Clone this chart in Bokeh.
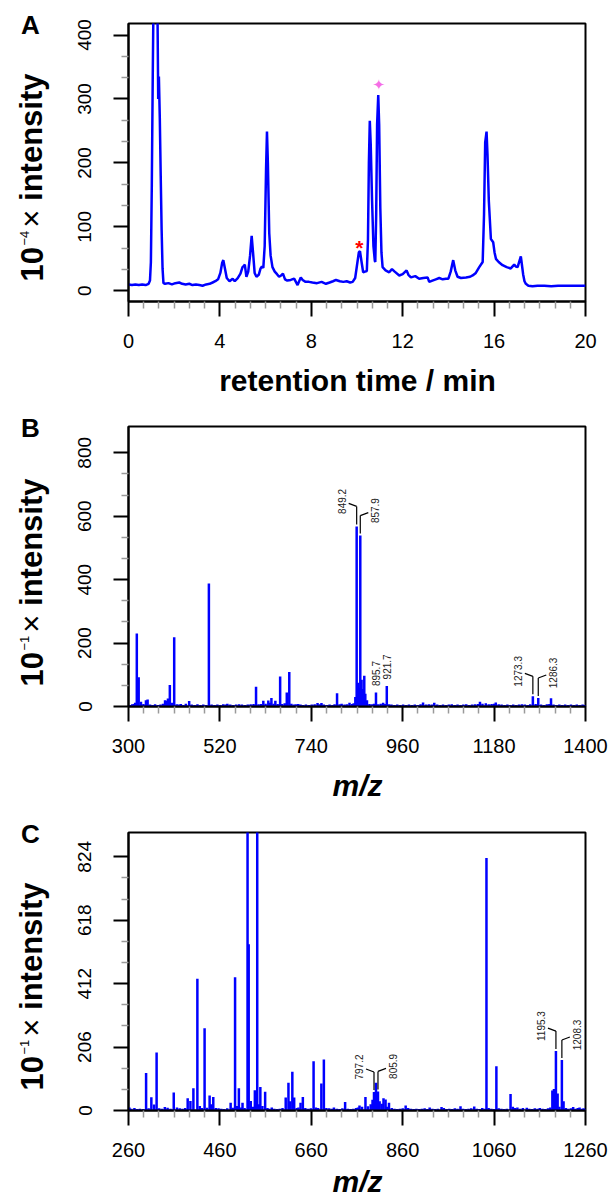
import math
from bokeh.plotting import figure
from bokeh.models import Range1d, FixedTicker, GridBox
from bokeh.embed import file_html
from bokeh.resources import INLINE
from bokeh.core.properties import value

# ---------------- data ----------------
# Panel A: chromatogram (retention time / min, 10^-4 x intensity)
rt_min = [0.00, 0.15, 0.30, 0.45, 0.60, 0.75, 0.88, 0.94, 0.98, 1.02, 1.06, 1.09, 1.15, 1.22, 1.27,
          1.30, 1.33, 1.37, 1.41, 1.45, 1.49, 1.53, 1.60, 1.75, 1.90, 2.05, 2.22, 2.35, 2.50, 2.66,
          2.80, 2.95, 3.10, 3.24, 3.40, 3.55, 3.68, 3.80, 3.92, 4.02, 4.10, 4.15, 4.22, 4.30, 4.42,
          4.56, 4.65, 4.78, 4.90, 4.99, 5.05, 5.09, 5.16, 5.24, 5.32, 5.39, 5.45, 5.52, 5.60, 5.70,
          5.78, 5.84, 5.90, 5.96, 6.02, 6.06, 6.10, 6.16, 6.22, 6.30, 6.40, 6.50, 6.59, 6.68, 6.76,
          6.85, 6.95, 7.10, 7.25, 7.40, 7.54, 7.62, 7.75, 7.90, 8.05, 8.25, 8.45, 8.64, 8.80, 8.95,
          9.08, 9.25, 9.40, 9.55, 9.70, 9.81, 9.92, 10.00, 10.08, 10.13, 10.20, 10.27, 10.35, 10.43, 10.48,
          10.52, 10.56, 10.60, 10.66, 10.72, 10.78, 10.80, 10.84, 10.88, 10.93, 10.97, 11.02, 11.07, 11.12, 11.25,
          11.41, 11.53, 11.65, 11.85, 12.00, 12.17, 12.25, 12.36, 12.55, 12.72, 12.90, 13.09, 13.16, 13.30, 13.45,
          13.60, 13.75, 13.89, 14.00, 14.10, 14.21, 14.30, 14.40, 14.55, 14.77, 14.95, 15.06, 15.20, 15.35, 15.50,
          15.56, 15.61, 15.67, 15.71, 15.77, 15.86, 15.96, 16.02, 16.08, 16.20, 16.37, 16.55, 16.73, 16.88, 16.95,
          17.03, 17.12, 17.17, 17.22, 17.27, 17.33, 17.39, 17.50, 17.68, 17.90, 18.20, 18.50, 18.80, 19.10, 19.40,
          19.70, 20.00]
rt_int = [10, 9, 10, 9, 10, 9, 11, 16, 45, 165, 330, 440, 470, 460, 430,
          300, 335, 270, 180, 95, 35, 12, 11, 12, 10, 12, 13, 11, 10, 11,
          9, 10, 9, 8, 10, 11, 13, 15, 18, 28, 44, 48, 35, 20, 15,
          19, 15, 20, 27, 37, 39, 41, 22, 30, 55, 86, 60, 28, 22, 25,
          35, 38, 36, 70, 190, 249, 200, 90, 55, 37, 30, 26, 22, 24, 27,
          18, 16, 17, 19, 9, 21, 17, 14, 14, 13, 12, 14, 11, 13, 15,
          17, 15, 14, 15, 13, 14, 20, 40, 60, 62, 45, 29, 30, 31, 80,
          200, 266, 230, 140, 70, 47, 45, 120, 260, 306, 260, 130, 60, 37, 32,
          29, 34, 30, 24, 26, 32, 25, 21, 23, 19, 20, 21, 14, 16, 18,
          20, 18, 19, 19, 30, 48, 32, 22, 20, 21, 22, 24, 28, 37, 45,
          120, 232, 249, 214, 140, 81, 76, 60, 50, 45, 40, 37, 35, 41, 38,
          37, 48, 54, 40, 26, 15, 11, 8, 7, 8, 8, 7, 8, 8, 8,
          8, 8]
mark_red_t, mark_red_v = [10.10], [71]
mark_pink_t, mark_pink_v = [10.95], [322]

# Panel B: mass spectrum (m/z, 10^-1 x intensity)
mzB = [304, 309, 313, 316, 320, 324.5, 330, 336, 342, 346, 352, 358, 364, 371, 377,
       383, 388, 392, 395, 399.5, 405, 410, 416, 421, 426, 432, 438, 446, 452, 459,
       466, 473, 480, 487, 493.5, 500, 507, 514, 521, 528, 534, 538, 545, 552, 559,
       566, 573, 580, 587, 594, 601, 607, 613, 619, 624.5, 630, 636.5, 640, 644, 649,
       653.5, 659, 665, 670, 676, 681, 687, 692, 698, 703, 708.5, 714, 720, 727, 734,
       741, 748, 755, 760, 764.5, 770, 777, 784, 791, 796, 802, 808, 813, 820, 826,
       832, 838, 842, 846, 849.2, 852, 854.5, 857.9, 861, 864, 867.5, 870, 874, 880, 886,
       891, 895.7, 901, 907, 913, 917, 921.7, 927, 933, 940, 947, 954, 961, 968, 975,
       982, 989, 996, 1003, 1009, 1016, 1023, 1030, 1036, 1043, 1050, 1057, 1064, 1071, 1078,
       1085, 1092, 1099, 1106, 1113, 1120, 1127, 1134, 1141, 1146, 1152, 1160, 1167, 1174, 1180,
       1184, 1191, 1198, 1205, 1212, 1219, 1226, 1233, 1240, 1247, 1254, 1261, 1267, 1273.3, 1280,
       1286.3, 1293, 1300, 1307, 1313, 1317, 1323, 1330, 1337, 1344, 1351, 1358, 1365, 1372, 1379,
       1386, 1393, 1398]
intB = [5, 7, 8, 12, 230, 92, 15, 8, 20, 22, 6, 5, 7, 5, 6,
        9, 20, 18, 25, 68, 12, 218, 7, 6, 8, 5, 9, 17, 6, 5,
        7, 5, 6, 5, 388, 6, 5, 6, 5, 7, 6, 9, 6, 5, 6,
        7, 6, 5, 6, 7, 8, 62, 7, 8, 18, 9, 19, 12, 27, 9,
        18, 8, 95, 8, 10, 44, 109, 9, 6, 7, 8, 6, 5, 6, 5,
        6, 7, 11, 7, 11, 6, 5, 6, 5, 7, 42, 7, 9, 6, 7,
        12, 8, 10, 30, 568, 75, 60, 539, 84, 55, 97, 40, 20, 8, 7,
        9, 44, 7, 9, 12, 8, 65, 7, 6, 5, 6, 5, 6, 5, 6,
        5, 6, 5, 7, 13, 6, 7, 6, 12, 6, 5, 6, 5, 6, 7,
        5, 6, 5, 6, 7, 5, 6, 7, 8, 15, 9, 10, 7, 8, 9,
        13, 7, 6, 5, 6, 5, 6, 5, 6, 7, 6, 5, 7, 32, 8,
        27, 6, 5, 7, 8, 26, 6, 5, 6, 5, 6, 5, 6, 5, 6,
        5, 6, 5]
labB_mz = [849.2, 857.9, 895.7, 921.7, 1273.3, 1286.3]
labB_txt = ["849.2", "857.9", "895.7", "921.7", "1273.3", "1286.3"]
labB_side = [-1, 1, 0, 0, -1, 1]

# Panel C: mass spectrum (m/z, 10^-1 x intensity)
mzC = [262, 266, 273, 279, 285, 292, 298.5, 304, 310, 316, 321.5, 327, 333, 339.5, 345.5,
       352, 359, 366, 372, 378, 384, 389.5, 395.5, 402, 410.7, 416, 421, 426.5, 432, 437.5,
       441, 445.5, 451, 457, 463, 469, 476, 483.5, 488, 493.2, 497, 501.5, 506, 509.5, 514,
       520.5, 523, 527.5, 532, 536.5, 541.7, 545, 548.5, 553, 559, 564, 568, 573.5, 579, 585,
       591, 597, 604, 610, 614, 618.5, 622.5, 628, 632, 636.5, 641.5, 647, 653, 659, 665,
       670, 675, 682, 687.5, 693, 699, 705, 709.5, 716, 722, 728, 734, 740, 746, 752,
       758, 762, 765.5, 771, 778.5, 784, 790, 794, 797.2, 801.5, 805.9, 809.5, 814, 818, 822.5,
       826, 830, 836, 842, 848, 854, 860, 866.5, 872, 878, 884, 890, 896, 902, 908,
       914, 919, 925, 931, 937, 945, 950, 956, 962, 968, 974, 980, 986.5, 992, 998,
       1004, 1010, 1016.5, 1022, 1028, 1034, 1039, 1043.3, 1048, 1054, 1060, 1065, 1070, 1076, 1082,
       1088, 1096, 1101, 1106, 1111, 1117, 1123, 1131.5, 1137, 1143, 1149, 1155, 1160, 1166, 1172,
       1178, 1183, 1187.5, 1191, 1195.3, 1199, 1203, 1208.3, 1212, 1217, 1222, 1228, 1233, 1238, 1243,
       1247, 1252, 1256, 1259]
intC = [10, 6, 8, 5, 6, 5, 122, 7, 43, 19.5, 188, 7, 6, 11, 9,
        6, 58.5, 10, 7, 6, 8, 39.5, 31, 72, 428, 15, 8, 267, 9, 49,
        20, 44, 8, 7, 6, 5, 7, 25, 9, 433, 15, 72, 10, 25, 8,
        1200, 540, 31, 12, 66, 1200, 20, 76, 15, 61, 8, 6, 10, 6, 5,
        6, 8, 42, 90, 30, 126, 42, 8, 10, 25, 44, 8, 6, 7, 160,
        10, 8, 88, 166, 8, 7, 6, 10, 6, 5, 7, 28, 6, 5, 6,
        8, 10, 16, 12, 43.5, 14, 20, 35, 60, 90, 62, 30, 22, 40, 36,
        12, 25, 8, 6, 5, 6, 7, 16, 8, 6, 5, 6, 5, 6, 7,
        5, 10, 6, 5, 6, 11, 8, 5, 6, 5, 7, 6, 14, 6, 5,
        6, 7, 13, 6, 5, 8, 6, 820, 8, 6, 5, 144, 7, 6, 5,
        6, 54, 12, 8, 10, 6, 8, 9, 6, 5, 7, 6, 8, 6, 5,
        7, 10, 65, 70, 193, 55, 12, 164, 30, 8, 6, 7, 11, 6, 8,
        10, 6, 7, 5]
labC_mz = [797.2, 805.9, 1195.3, 1208.3]
labC_txt = ["797.2", "805.9", "1195.3", "1208.3"]
labC_side = [-1, 1, -1, 1]

A_xticks = [0, 4, 8, 12, 16, 20]
A_yticks = [0, 100, 200, 300, 400]
B_xticks = [300, 520, 740, 960, 1180, 1400]
B_yticks = [0, 200, 400, 600, 800]
C_xticks = [260, 460, 660, 860, 1060, 1260]
C_yticks = [0, 206, 412, 618, 824]

# ---------------- layout ----------------
FONT = "Liberation Sans"
TOTAL_W, TOTAL_H = 609, 1200
BL, BR, FW = 128, 24, 457
BLUE = "#0000FF"
MID = 0.34   # distance (em) from alphabetic baseline to text middle

CFG = {
    "A": dict(page_top=0, bt=23, fh=278, bb=111, xr=(0, 20), yr=(-16.7, 418)),
    "B": dict(page_top=412, bt=14, fh=280, bb=110, xr=(300, 1400), yr=(0, 883)),
    "C": dict(page_top=816, bt=16, fh=278, bb=90, xr=(260, 1260), yr=(0, 903)),
}
for c in CFG.values():
    c["fb"] = c["page_top"] + c["bt"] + c["fh"]   # frame bottom, page px

BOLD_W = {'1': 556, '0': 556, 'i': 278, 'n': 611, 't': 333, 'e': 556, 's': 556, 'y': 556, ' ': 278}
REG_W = {'\u2212': 584, '4': 556, '1': 556, '\u00d7': 584, ' ': 278}


def tw(s, table, size):
    return sum(table[ch] for ch in s) * size / 1000.0


def minor_between(ticks, n):
    out = []
    for a, b in zip(ticks[:-1], ticks[1:]):
        step = (b - a) / n
        out += [a + k * step for k in range(1, n)]
    return out


def make_fig(key, xticks, yticks):
    cfg = CFG[key]
    p = figure(frame_width=FW, frame_height=cfg["fh"], min_border_left=BL, min_border_right=BR,
               min_border_top=cfg["bt"], min_border_bottom=cfg["bb"],
               x_range=Range1d(*cfg["xr"]), y_range=Range1d(*cfg["yr"]),
               output_backend="svg", toolbar_location=None,
               background_fill_color="white", border_fill_color="white")
    p.grid.visible = False
    p.outline_line_color = "black"
    p.outline_line_width = 2
    p.outline_line_alpha = 1
    p.xaxis.ticker = FixedTicker(ticks=xticks, minor_ticks=minor_between(xticks, 6))
    p.yaxis.ticker = FixedTicker(ticks=yticks, minor_ticks=minor_between(yticks, 3))
    for ax in (p.xaxis[0], p.yaxis[0]):
        ax.axis_line_color = "black"
        ax.axis_line_width = 2
        ax.major_tick_line_color = "black"
        ax.major_tick_line_width = 2
        ax.major_tick_out = 15
        ax.major_tick_in = 0
        ax.minor_tick_line_color = "#9a9a9a"
        ax.minor_tick_line_width = 1.5
        ax.minor_tick_out = 7
        ax.minor_tick_in = 0
        ax.major_label_text_font = FONT
        ax.major_label_text_color = "black"
    p.xaxis.major_label_text_font_size = "20px"
    p.xaxis.major_label_standoff = 17
    p.yaxis.major_label_text_font_size = "19px"
    p.yaxis.major_label_orientation = "vertical"
    p.yaxis.major_label_standoff = 22
    return p


def annotate(p, key, mzs, ints, lab_mz, lab_txt, lab_side):
    cfg = CFG[key]
    xs = (cfg["xr"][1] - cfg["xr"][0]) / FW
    ys = (cfg["yr"][1] - cfg["yr"][0]) / cfg["fh"]
    sx0, sy0, sx1, sy1 = [], [], [], []
    tx, ty, tt = [], [], []
    for m, t, s in zip(lab_mz, lab_txt, lab_side):
        top = ints[mzs.index(m)]
        if s == 0:
            tx.append(m); ty.append(top + 19 * ys); tt.append(t)
        else:
            sx0 += [m, m]
            sy0 += [top + 2 * ys, top + 20 * ys]
            sx1 += [m, m + s * 8 * xs]
            sy1 += [top + 20 * ys, top + 23 * ys]
            tx.append(m + s * 15 * xs); ty.append(top + 25 * ys); tt.append(t)
    p.segment(sx0, sy0, sx1, sy1, line_color="black", line_width=1.2)
    p.text(tx, ty, tt, angle=math.pi / 2, text_align="center", text_baseline="middle",
           text_font=value(FONT), text_font_size="10px", text_color="#222222")


# Panel A
pA = make_fig("A", A_xticks, A_yticks)
pA.line(rt_min, rt_int, line_color=BLUE, line_width=2.5)
pA.text(mark_red_t, mark_red_v, ["*"], text_color="red", text_font=value(FONT),
        text_font_size="21px", text_font_style="bold", text_align="center",
        text_baseline="middle", y_offset=2)
pA.text(mark_pink_t, mark_pink_v, ["\u2726"], text_color="#F56EE6", text_font=value("DejaVu Sans"),
        text_font_size="15px", text_align="center", text_baseline="middle")

# Panel B
pB = make_fig("B", B_xticks, B_yticks)
pB.segment(mzB, [0] * len(mzB), mzB, intB, line_color=BLUE, line_width=2.5)
annotate(pB, "B", mzB, intB, labB_mz, labB_txt, labB_side)

# Panel C
pC = make_fig("C", C_xticks, C_yticks)
pC.segment(mzC, [0] * len(mzC), mzC, intC, line_color=BLUE, line_width=2.5)
annotate(pC, "C", mzC, intC, labC_mz, labC_txt, labC_side)

# ---------------- transparent overlay for titles and panel letters ----------------
ov = figure(width=TOTAL_W, height=TOTAL_H, min_border=0,
            x_range=Range1d(0, TOTAL_W), y_range=Range1d(0, TOTAL_H),
            x_axis_type=None, y_axis_type=None, toolbar_location=None, output_backend="svg",
            background_fill_alpha=0, border_fill_alpha=0)
ov.outline_line_color = None
ov.frame_align = False


def otext(px, py, txt, size, style="normal", rotated=False, align="left", font=FONT):
    # (px, py): page position of the alphabetic baseline start/centre
    if rotated:
        px -= MID * size
    else:
        py -= MID * size
    ov.text([px], [TOTAL_H - py], [txt], angle=(math.pi / 2 if rotated else 0.0),
            text_font=value(font), text_font_size=f"{size}px", text_font_style=style,
            text_align=align, text_baseline="middle", text_color="black")


def ytitle(fb, expo):
    size, ssize = 31, 13
    base_x, sup_x = 42, 28
    y = fb - 20
    otext(base_x, y, "10", size, style="bold", rotated=True)
    y -= tw("10", BOLD_W, size) + 1.5
    otext(sup_x, y, expo, ssize, rotated=True)
    y -= tw(expo, REG_W, ssize) + 3
    otext(base_x, y, "\u00d7", size, rotated=True)
    y -= tw("\u00d7", REG_W, size) + tw(" ", BOLD_W, size)
    otext(base_x, y, "intensity", size, style="bold", rotated=True)


for key, letter, xtitle, xstyle, expo in [("A", "A", "retention time / min", "bold", "\u22124"),
                                           ("B", "B", "m/z", "bold italic", "\u22121"),
                                           ("C", "C", "m/z", "bold italic", "\u22121")]:
    cfg = CFG[key]
    otext(30, cfg["page_top"] + cfg["bt"] + 10, letter, 26, style="bold", align="center")
    otext(357, min(cfg["fb"] + 89, TOTAL_H - 9), xtitle, 30, style=xstyle, align="center")
    ytitle(cfg["fb"], expo)

layout = GridBox(children=[(pA, 0, 0), (pB, 1, 0), (pC, 2, 0), (ov, 0, 0, 3, 1)], spacing=0)
open("out.html", "w").write(file_html(layout, INLINE))
